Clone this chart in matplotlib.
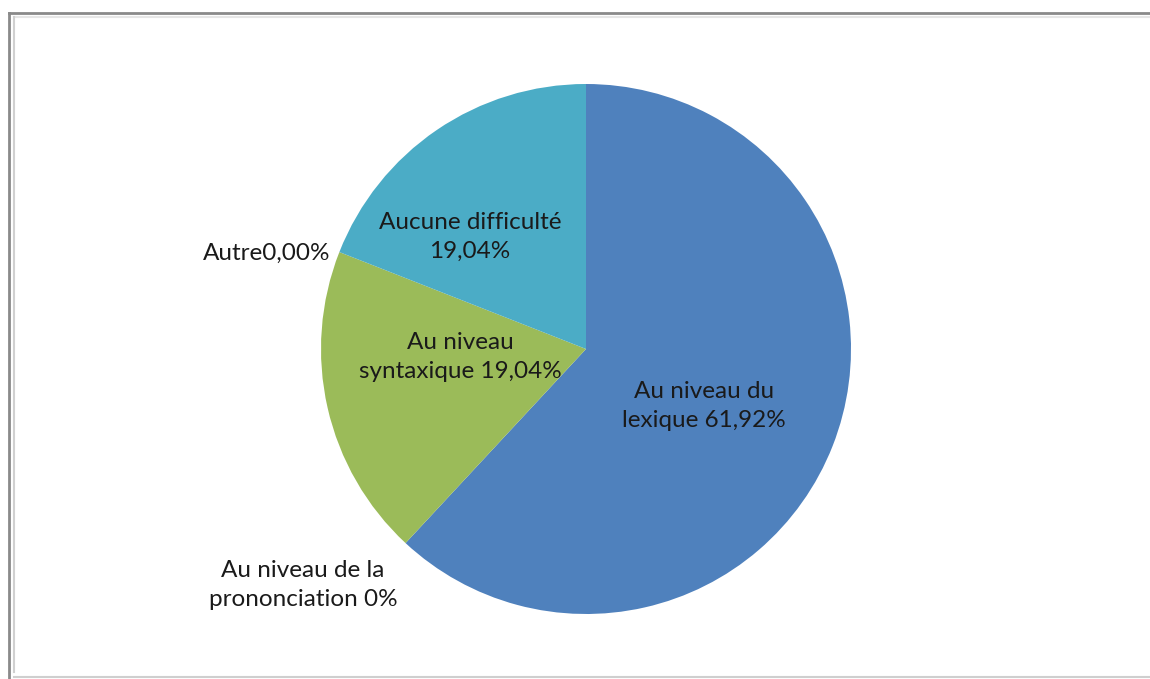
import matplotlib
matplotlib.use("Agg")
import matplotlib.pyplot as plt
from matplotlib.lines import Line2D

categories = ["Au niveau du lexique", "Au niveau de la prononciation",
              "Au niveau syntaxique", "Autre", "Aucune difficulté"]
values = [61.92, 0.0, 19.04, 0.0, 19.04]
label_texts = ["Au niveau du\nlexique 61,92%", "Au niveau de la\nprononciation 0%",
               "Au niveau\nsyntaxique 19,04%", "Autre0,00%",
               "Aucune difficulté\n19,04%"]
colors = ["#4F81BD", "#4F81BD", "#9BBB59", "#9BBB59", "#4BACC6"]

W, H = 1150, 679
fig = plt.figure(figsize=(W / 100, H / 100), dpi=100)
fig.patch.set_facecolor("white")

# frame
def fl(x0, y0, x1, y1, c, lw):
    fig.add_artist(Line2D([x0 / W, x1 / W], [1 - y0 / H, 1 - y1 / H],
                          color=c, lw=lw, transform=fig.transFigure))
fl(9, 13, 1150, 13, "#8a8a8a", 2.0)
fl(9, 13, 9, 679, "#8a8a8a", 2.0)
fl(14, 17, 1150, 17, "#e6e6e6", 1.5)
fl(14, 17, 14, 672, "#d0d0d0", 1.5)
fl(14, 677, 1150, 677, "#cfcfcf", 1.5)

cx, cy, r = 586, 349, 265
ax = fig.add_axes([(cx - r) / W, 1 - (cy + r) / H, 2 * r / W, 2 * r / H])

wedges, _ = ax.pie(values, colors=colors, startangle=90, counterclock=False,
                   radius=1.0, center=(0, 0), normalize=True,
                   wedgeprops=dict(linewidth=0, edgecolor="none"))
ax.set_xlim(-1, 1)
ax.set_ylim(-1, 1)
ax.set_aspect("equal")
ax.axis("off")

font = ["Lato", "DejaVu Sans"]
# label positions (layout, in pie-radius units) and alignment
label_pos = [(0.445, -0.215, "center"), (-1.068, -0.891, "center"),
             (-0.475, -0.03, "center"), (-0.966, 0.362, "right"),
             (-0.438, 0.423, "center")]
for txt, (x, y, ha) in zip(label_texts, label_pos):
    ax.text(x, y, txt, ha=ha, va="center", fontsize=17.5, family=font,
            color="#1a1a1a", linespacing=1.45, multialignment="center",
            clip_on=False)

fig.savefig("out.png", dpi=100, facecolor="white")
